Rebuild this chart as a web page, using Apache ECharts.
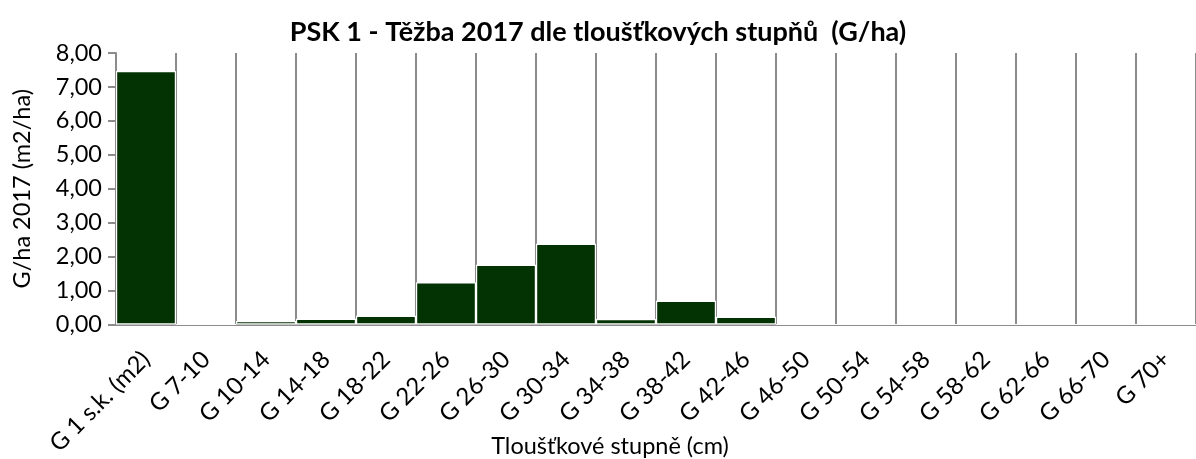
<!DOCTYPE html>
<html><head><meta charset="utf-8">
<script src="https://cdn.jsdelivr.net/npm/echarts@6/dist/echarts.min.js"></script>
<style>html,body{margin:0;padding:0;background:#fff}#c{width:1196px;height:459px}</style>
</head><body><div id="c"></div>
<script>
const categories = ["G 1 s.k. (m2)","G 7-10","G 10-14","G 14-18","G 18-22","G 22-26","G 26-30","G 30-34","G 34-38","G 38-42","G 42-46","G 46-50","G 50-54","G 54-58","G 58-62","G 62-66","G 66-70","G 70+"];
const values = [7.47,0,0.1,0.17,0.26,1.24,1.76,2.38,0.16,0.7,0.23,0,0,0,0,0,0,0];
const yTicks = {min:0,max:8,interval:1};
const titleText = "PSK 1 - Těžba 2017 dle tloušťkových stupňů  (G/ha)";
const yName = "G/ha 2017 (m2/ha)";
const xName = "Tloušťkové stupně (cm)";
const font = "Lato, 'Open Sans', sans-serif";
const chart = echarts.init(document.getElementById('c'));
chart.setOption({
  animation:false,
  title:[
    {text:titleText,left:'center',top:14,textStyle:{fontFamily:font,fontWeight:'bold',fontSize:27,color:'#000'}},
    {text:xName,left:605,textAlign:'center',top:429,textStyle:{fontFamily:font,fontWeight:'normal',fontSize:23.5,color:'#000'}}
  ],
  grid:{left:116,right:0,top:53,bottom:134.5,containLabel:false,outerBoundsMode:'none'},
  xAxis:{type:'category',data:categories,boundaryGap:true,
    axisLine:{lineStyle:{color:'#8c8c8c',width:2}},
    axisTick:{show:false},
    splitLine:{show:true,lineStyle:{color:'#8c8c8c',width:2}},
    axisLabel:{rotate:45,interval:0,fontFamily:font,fontSize:24,color:'#000',margin:31}},
  yAxis:{type:'value',min:yTicks.min,max:yTicks.max,interval:yTicks.interval,
    name:yName,nameLocation:'middle',nameGap:82,nameTextStyle:{fontFamily:font,fontSize:23.5,color:'#000'},
    axisLine:{show:true,lineStyle:{color:'#8c8c8c',width:2}},
    axisTick:{show:true,length:8,lineStyle:{color:'#8c8c8c',width:2}},
    splitLine:{show:false},
    axisLabel:{fontFamily:font,fontSize:23.5,color:'#000',margin:14,formatter:v=>v.toFixed(2).replace('.',',')}},
  series:[{type:'bar',data:values,barCategoryGap:'0%',itemStyle:{color:'#033303',borderColor:'#fff',borderWidth:1.2}}]
});
</script></body></html>
